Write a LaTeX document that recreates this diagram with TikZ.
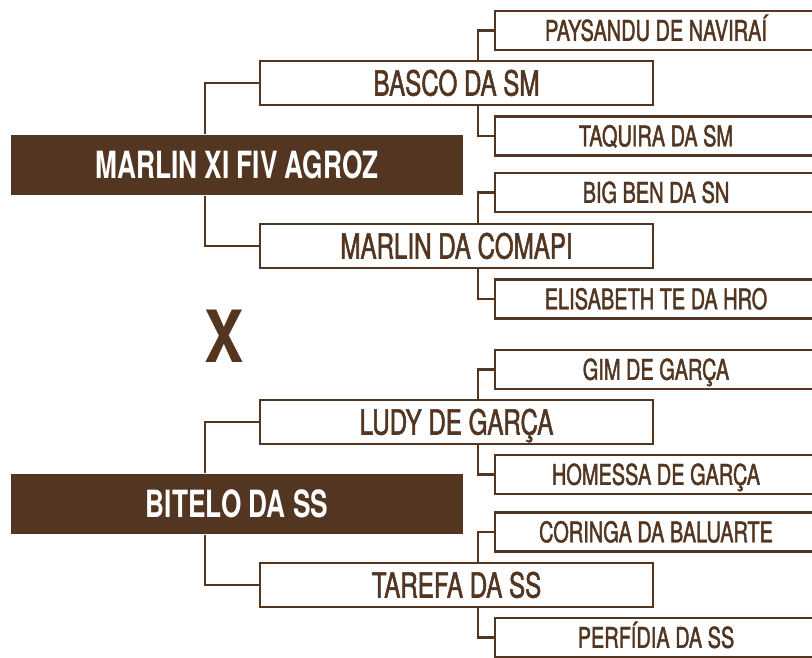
\documentclass[tikz,border=0pt]{standalone}
\usepackage{fontspec}
\newfontfamily\pedfont{TeX Gyre Heros}[FakeStretch=0.7, FakeBold=1.5]
\newfontfamily\pedbold{TeX Gyre Heros Bold}[FakeStretch=0.7]
\newfontfamily\pedwide{TeX Gyre Heros Bold}[FakeStretch=0.82]
\usepackage{tikz}
\usetikzlibrary{positioning}
\definecolor{pedbrown}{HTML}{523621}

\begin{document}
\begin{tikzpicture}[x=1pt, y=-1pt,
        line width=2.5pt,
        every node/.style={font=\pedfont, text=pedbrown, inner sep=0pt},
        mainbox/.style={fill=pedbrown, text=white, minimum width=452pt, minimum height=60pt,
            font=\pedbold\fontsize{37.5}{40}\selectfont, text height=27pt, text depth=0pt},
        parentbox/.style={draw=pedbrown, fill=white, minimum width=393pt, minimum height=44pt,
            font=\pedfont\fontsize{34.5}{38}\selectfont, text height=25pt, text depth=0pt},
        grandbox/.style={draw=pedbrown, fill=white, minimum width=322pt, minimum height=39pt,
            font=\pedfont\fontsize{28.5}{32}\selectfont, text height=20.5pt, text depth=0pt},
        link/.style={draw=pedbrown}]
        \useasboundingbox (0,0) rectangle (812,657);
        \clip (0,0) rectangle (812,657);

        % Place nodes
        \node [mainbox] (marlin) at (237,165) {MARLIN XI FIV AGROZ};
        \node [mainbox] (bitelo) at (237,504) {BITELO DA SS};

        \node [parentbox] (basco) at (456.5,83) {BASCO DA SM};
        \node [parentbox] (comapi) at (456.5,246) {MARLIN DA COMAPI};
        \node [parentbox] (ludy) at (456.5,422) {LUDY DE GARÇA};
        \node [parentbox] (tarefa) at (456.5,585) {TAREFA DA SS};

        \node [grandbox] (paysandu) at (656,30.5) {PAYSANDU DE NAVIRAÍ};
        \node [grandbox] (taquira) at (656,136) {TAQUIRA DA SM};
        \node [grandbox] (bigben) at (656,192.5) {BIG BEN DA SN};
        \node [grandbox] (elisabeth) at (656,299) {ELISABETH TE DA HRO};
        \node [grandbox] (gim) at (656,369.5) {GIM DE GARÇA};
        \node [grandbox] (homessa) at (656,474.5) {HOMESSA DE GARÇA};
        \node [grandbox] (coringa) at (656,532) {CORINGA DA BALUARTE};
        \node [grandbox] (perfidia) at (656,637.5) {PERFÍDIA DA SS};

        \node [font=\pedwide\fontsize{72}{72}\selectfont, text height=52pt, text depth=0pt]
            (cross) at (224,336) {X};

        % Draw edges
        \draw [link]
        ([xshift=-32pt]marlin.north) |- (basco.west)
        ([xshift=-32pt]marlin.south) |- (comapi.west)
        ([xshift=-32pt]bitelo.north) |- (ludy.west)
        ([xshift=-32pt]bitelo.south) |- (tarefa.west)

        ([xshift=21.5pt]basco.north) |- (paysandu.west)
        ([xshift=21.5pt]basco.south) |- (taquira.west)
        ([xshift=21.5pt]comapi.north) |- (bigben.west)
        ([xshift=21.5pt]comapi.south) |- (elisabeth.west)
        ([xshift=21.5pt]ludy.north) |- (gim.west)
        ([xshift=21.5pt]ludy.south) |- (homessa.west)
        ([xshift=21.5pt]tarefa.north) |- (coringa.west)
        ([xshift=21.5pt]tarefa.south) |- (perfidia.west);

    \end{tikzpicture}
\end{document}
